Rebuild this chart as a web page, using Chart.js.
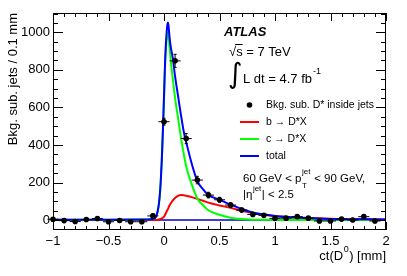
<!DOCTYPE html>
<html>
<head>
<meta charset="utf-8">
<script src="https://cdn.jsdelivr.net/npm/chart.js@4.4.1/dist/chart.umd.min.js"></script>
<style>
  html, body { margin: 0; padding: 0; background: #fff; overflow: hidden; }
  canvas { display: block; }
</style>
</head>
<body>
<canvas id="ctChart" width="407" height="276"></canvas>
<script>
// measured points (bin centres in mm, counts per 0.1 mm)
var binCenters = [-1.0, -0.9, -0.8, -0.7, -0.6, -0.5, -0.4, -0.3, -0.2, -0.1,
                  0.0, 0.1, 0.2, 0.3, 0.4, 0.5, 0.6, 0.7, 0.8, 0.9,
                  1.0, 1.1, 1.2, 1.3, 1.4, 1.5, 1.6, 1.7, 1.8, 1.9];
var jetCounts = [4, -3, -8, 3, 8, -9, -2, -9, -9, 22,
                 524, 848, 434, 213, 133, 108, 80, 53, 30, 25,
                 9, 10, 18, 10, -5, -5, 5, 0, 18, -5];
var jetErrors = [8, 8, 8, 8, 8, 8, 8, 8, 8, 12,
                 18, 35, 27, 20, 15, 13, 12, 11, 9, 9,
                 9, 9, 9, 9, 9, 9, 9, 9, 9, 9];
var binHalfWidth = 0.05;

// fit curves
var fitX = [-1.0, -0.5, -0.2, -0.1, -0.08, -0.066, -0.05, -0.04, -0.03, -0.02,
            -0.01, 0.0, 0.01, 0.02, 0.03, 0.035, 0.04, 0.05, 0.06, 0.08,
            0.1, 0.13, 0.15, 0.18, 0.2, 0.25, 0.3, 0.35, 0.4, 0.5,
            0.6, 0.7, 0.8, 0.9, 1.0, 1.2, 1.5, 2.0];
var fitTotal = [1, 2, 3, 6, 12, 27, 70, 120, 200, 320,
                480, 660, 850, 970, 1040, 1053, 1040, 975, 925, 860,
                765, 648, 570, 465, 415, 300, 208, 165, 134, 108,
                82, 59, 40, 30, 21, 12, 6, 3];
var fitCharm = [1, 2, 3, 5, 11, 26, 66, 115, 194, 310,
                466, 640, 820, 930, 985, 1000, 990, 920, 855, 750,
                650, 530, 450, 345, 285, 190, 115, 80, 52, 28,
                12, 5, 2, 1, 1, 0, 0, 0];
var fitBottom = [0, 0, 0, 0, 0, 0, 3, 4, 6, 8,
                 12, 18, 28, 40, 52, 58, 65, 78, 88, 105,
                 118, 130, 133, 132, 129, 122, 113, 103, 93, 78,
                 65, 50, 38, 28, 21, 13, 7, 3];
var zeroLineX = [-1.0, 2.0];
var zeroLineY = [0, 0];

var xTickLabels = [-1, -0.5, 0, 0.5, 1, 1.5, 2];
var yTickLabels = [0, 200, 400, 600, 800, 1000];

var FONT = '"Liberation Sans", Arial, Helvetica, sans-serif';

function pairs(xs, ys) {
    return xs.map(function(x, i){ return { x: x, y: ys[i] }; });
}

// error bars, ticks, frame and the text boxes
var atlasDecor = {
    id: 'atlasDecor',
    afterDatasetsDraw: function(chart) {
        var ctx = chart.ctx;
        var xs = chart.scales.x, ys = chart.scales.y;
        ctx.save();
        ctx.strokeStyle = '#000';
        ctx.lineWidth = 1;
        binCenters.forEach(function(c, i){
            var px = xs.getPixelForValue(c);
            var py = ys.getPixelForValue(jetCounts[i]);
            var x0 = xs.getPixelForValue(c - binHalfWidth);
            var x1 = xs.getPixelForValue(c + binHalfWidth);
            var y0 = ys.getPixelForValue(jetCounts[i] - jetErrors[i]);
            var y1 = ys.getPixelForValue(jetCounts[i] + jetErrors[i]);
            ctx.beginPath();
            ctx.moveTo(x0, py); ctx.lineTo(x1, py);
            ctx.moveTo(px, y0); ctx.lineTo(px, y1);
            ctx.stroke();
            // small end caps on the vertical bars
            ctx.beginPath();
            ctx.moveTo(px - 1.5, y0); ctx.lineTo(px + 1.5, y0);
            ctx.moveTo(px - 1.5, y1); ctx.lineTo(px + 1.5, y1);
            ctx.stroke();
        });
        ctx.restore();
    },
    afterDraw: function(chart) {
        var ctx = chart.ctx;
        var a = chart.chartArea;
        var xs = chart.scales.x, ys = chart.scales.y;
        ctx.save();

        // frame
        ctx.strokeStyle = '#000';
        ctx.lineWidth = 1;
        ctx.strokeRect(a.left + 0.5, a.top + 0.5, a.right - a.left - 1, a.bottom - a.top - 1);

        // ticks on all four sides, pointing inwards
        ctx.beginPath();
        var v, p, big;
        for (var k = -10; k <= 20; k++) {
            v = k / 10;
            p = Math.round(xs.getPixelForValue(v)) + 0.5;
            big = (k % 5 === 0) ? 8 : 4;
            ctx.moveTo(p, a.bottom); ctx.lineTo(p, a.bottom - big);
            ctx.moveTo(p, a.top); ctx.lineTo(p, a.top + big);
        }
        for (var j = -1; j <= 22; j++) {
            v = j * 50;
            if (v < ys.min || v > ys.max) continue;
            p = Math.round(ys.getPixelForValue(v)) + 0.5;
            big = (j % 4 === 0) ? 10 : 5;
            ctx.moveTo(a.left, p); ctx.lineTo(a.left + big, p);
            ctx.moveTo(a.right, p); ctx.lineTo(a.right - big, p);
        }
        ctx.stroke();

        ctx.fillStyle = '#000';
        ctx.textBaseline = 'alphabetic';

        // axis titles
        ctx.save();
        ctx.translate(17, a.top);
        ctx.rotate(-Math.PI / 2);
        ctx.textAlign = 'right';
        ctx.font = '13px ' + FONT;
        ctx.fillText('Bkg. sub. jets / 0.1 mm', 0, 0);
        ctx.restore();

        ctx.textAlign = 'left';
        ctx.font = '13px ' + FONT;
        var tail = ') [mm]';
        var wTail = ctx.measureText(tail).width;
        var wHead = ctx.measureText('ct(D').width;
        ctx.font = '9px ' + FONT;
        var wSup = ctx.measureText('0').width;
        var xt = a.right - wTail - wSup - wHead - 1;
        ctx.font = '13px ' + FONT;
        ctx.fillText('ct(D', xt, 260);
        ctx.fillText(tail, xt + wHead + wSup + 1, 260);
        ctx.font = '9px ' + FONT;
        ctx.fillText('0', xt + wHead + 0.5, 252);

        // ATLAS label and conditions
        ctx.font = 'italic bold 13px ' + FONT;
        ctx.fillText('ATLAS', 224, 36);

        ctx.font = '13px ' + FONT;
        ctx.fillText('\u221As = 7 TeV', 229, 56);
        var wRad = ctx.measureText('\u221A').width;
        var wS = ctx.measureText('s').width;
        ctx.beginPath();
        ctx.moveTo(229 + wRad - 1, 44.5);
        ctx.lineTo(229 + wRad + wS, 44.5);
        ctx.stroke();

        ctx.textBaseline = 'middle';
        ctx.font = '28px "DejaVu Sans", sans-serif';
        ctx.fillText('\u222B', 228, 76);
        ctx.textBaseline = 'alphabetic';
        ctx.font = '13px ' + FONT;
        ctx.fillText('L dt = 4.7 fb', 243, 83);
        var wL = ctx.measureText('L dt = 4.7 fb').width;
        ctx.font = '9px ' + FONT;
        ctx.fillText('-1', 243 + wL + 1, 74);

        // legend
        ctx.beginPath();
        ctx.arc(249.5, 105, 2.8, 0, Math.PI * 2);
        ctx.fill();
        var rows = [
            { y: 122, color: '#ff0000', text: 'b \u2192 D*X' },
            { y: 139, color: '#00ff00', text: 'c \u2192 D*X' },
            { y: 156, color: '#0000ff', text: 'total' }
        ];
        ctx.lineWidth = 2;
        rows.forEach(function(r){
            ctx.strokeStyle = r.color;
            ctx.beginPath();
            ctx.moveTo(240, r.y); ctx.lineTo(259, r.y);
            ctx.stroke();
        });
        ctx.textBaseline = 'middle';
        ctx.font = '10.5px ' + FONT;
        ctx.fillText('Bkg. sub. D* inside jets', 266, 105);
        rows.forEach(function(r){ ctx.fillText(r.text, 266, r.y); });

        // kinematic range
        ctx.textBaseline = 'alphabetic';
        var x0 = 243;
        ctx.font = '11.5px ' + FONT;
        var s1 = '60 GeV < p';
        ctx.fillText(s1, x0, 182);
        var w1 = ctx.measureText(s1).width;
        ctx.font = '8px ' + FONT;
        ctx.fillText('jet', x0 + w1 + 0.5, 174);
        ctx.fillText('T', x0 + w1 + 0.5, 188);
        var wj = ctx.measureText('jet').width;
        ctx.font = '11.5px ' + FONT;
        ctx.fillText(' < 90 GeV,', x0 + w1 + wj + 1, 182);

        var s2 = '|\u03B7';
        ctx.fillText(s2, x0, 198);
        var w2 = ctx.measureText(s2).width;
        ctx.font = '8px ' + FONT;
        ctx.fillText('jet', x0 + w2 + 0.5, 191);
        var wj2 = ctx.measureText('jet').width;
        ctx.font = '11.5px ' + FONT;
        ctx.fillText('| < 2.5', x0 + w2 + wj2 + 1, 198);

        ctx.restore();
    }
};

var ctx = document.getElementById('ctChart');
var chart = new Chart(ctx.getContext('2d'), {
    type: 'line',
    data: {
        datasets: [{
            type: 'scatter',
            label: 'Bkg. sub. D* inside jets',
            data: pairs(binCenters, jetCounts),
            showLine: false,
            pointRadius: 2.8,
            pointBackgroundColor: '#000',
            pointBorderWidth: 0,
            clip: false,
            order: 0
        }, {
            label: 'total',
            data: pairs(fitX, fitTotal),
            borderColor: '#0000ff',
            borderWidth: 2,
            pointRadius: 0,
            cubicInterpolationMode: 'monotone',
            fill: false,
            order: 1
        }, {
            label: 'c \u2192 D*X',
            data: pairs(fitX, fitCharm),
            borderColor: '#00ff00',
            borderWidth: 2,
            pointRadius: 0,
            cubicInterpolationMode: 'monotone',
            fill: false,
            order: 2
        }, {
            label: 'b \u2192 D*X',
            data: pairs(fitX, fitBottom),
            borderColor: '#ff0000',
            borderWidth: 2,
            pointRadius: 0,
            cubicInterpolationMode: 'monotone',
            fill: false,
            order: 3
        }, {
            label: 'zero',
            data: pairs(zeroLineX, zeroLineY),
            borderColor: '#0000cc',
            borderWidth: 1.5,
            pointRadius: 0,
            fill: false,
            order: 4
        }]
    },
    options: {
        responsive: false,
        animation: false,
        devicePixelRatio: 1,
        layout: { padding: { left: 0, right: 21, top: 13, bottom: 0 } },
        plugins: {
            legend: { display: false },
            tooltip: { enabled: false }
        },
        scales: {
            x: {
                type: 'linear',
                min: -1,
                max: 2,
                grid: { display: false, drawTicks: false },
                border: { display: false },
                afterBuildTicks: function(scale){
                    scale.ticks = xTickLabels.map(function(v){ return { value: v }; });
                },
                afterFit: function(scale){ scale.height = 46; },
                ticks: {
                    color: '#000',
                    padding: 4,
                    maxRotation: 0,
                    autoSkip: false,
                    font: { family: FONT, size: 13 },
                    callback: function(v){ return String(v).replace('-', '\u2212'); }
                }
            },
            y: {
                min: -53,
                max: 1103,
                grid: { display: false, drawTicks: false },
                border: { display: false },
                afterBuildTicks: function(scale){
                    scale.ticks = yTickLabels.map(function(v){ return { value: v }; });
                },
                afterFit: function(scale){ scale.width = 53; },
                ticks: {
                    color: '#000',
                    padding: 3,
                    autoSkip: false,
                    font: { family: FONT, size: 13 },
                    callback: function(v){ return String(v); }
                }
            }
        }
    },
    plugins: [atlasDecor]
});
</script>
</body>
</html>
